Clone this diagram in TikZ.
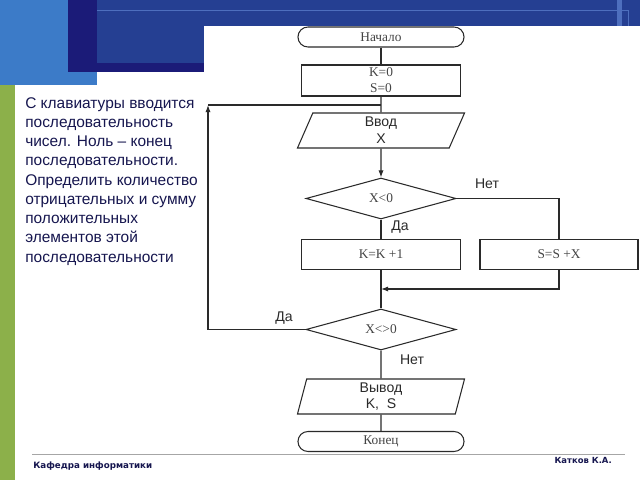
\documentclass[tikz,border=0pt]{standalone}
\usepackage{fontspec}
\setmainfont{Liberation Sans}
\newfontfamily\timesfont{Liberation Serif}
\newfontfamily\footfont{DejaVu Sans}
\usetikzlibrary{shapes.geometric,arrows.meta}

\definecolor{slideblue}{HTML}{3C7BC8}
\definecolor{slidenavy}{HTML}{1B1B78}
\definecolor{bandblue}{HTML}{253F92}
\definecolor{bandline}{HTML}{4E6FBE}
\definecolor{slidegreen}{HTML}{8CB04A}
\definecolor{textnavy}{HTML}{16164F}
\definecolor{linegray}{HTML}{2A2A2A}
\definecolor{txtgray}{HTML}{444444}

\begin{document}
\begin{tikzpicture}
  [
    x=0.025cm,
    y=-0.025cm,
    conn/.style={
      draw=linegray,
      line width=.75pt
    },
    arr/.style={
      conn,
      -{Latex[length=1.8mm,width=1.3mm]}
    },
    block/.style={
      conn,
      rectangle,
      inner sep=0,
      minimum width=3.975cm,
      minimum height=.75cm,
      align=center,
      text=txtgray,
      font=\timesfont\fontsize{9.5}{11.4}\selectfont
    },
    term/.style={
      block,
      rounded corners=.25cm,
      minimum width=4.15cm,
      minimum height=.5cm
    },
    io/.style={
      conn,
      trapezium,
      trapezium left angle=60,
      trapezium right angle=120,
      trapezium stretches body,
      inner sep=0,
      minimum width=4.175cm,
      minimum height=.875cm,
      align=center,
      text=linegray,
      font=\fontsize{10}{12}\selectfont
    },
    decision/.style={
      conn,
      diamond,
      inner sep=0,
      minimum width=3.75cm,
      minimum height=1.025cm,
      text=txtgray,
      font=\timesfont\fontsize{9.5}{11.4}\selectfont
    },
    lbl/.style={
      text=linegray,
      inner sep=0,
      font=\fontsize{10}{12}\selectfont
    }
  ]

  \useasboundingbox (0,0) rectangle (640,480);
  \fill [white] (0,0) rectangle (640,480);

  % slide background
  \fill [slideblue] (0,0) rectangle (97,85);
  \fill [slidegreen] (0,85) rectangle (15,480);
  \fill [slidenavy] (68,0) rectangle (204,72);
  \fill [bandblue] (97,0) rectangle (640,26);
  \fill [bandblue] (97,10) rectangle (204,63);
  \draw [bandline, line width=.6pt] (97,10) -- (628,10) -- (628,26);
  \fill [bandline] (617,0) rectangle (622,26);
  \draw [gray!70, line width=.5pt] (32,454) -- (625,454);

  % task
  \node [anchor=north west, inner sep=0, align=left, text=textnavy,
         font=\fontsize{11}{13.7}\selectfont] (task) at (25,97)
    {С клавиатуры вводится\\
     последовательность\\
     чисел. Ноль – конец\\
     последовательности.\\
     Определить количество\\
     отрицательных и сумму\\
     положительных\\
     элементов этой\\
     последовательности};

  % footer
  \node [anchor=west, inner sep=0, text=textnavy,
         font=\footfont\bfseries\fontsize{6.2}{7}\selectfont] (dept) at (33,466)
    {Кафедра информатики};
  \node [anchor=east, inner sep=0, text=textnavy,
         font=\footfont\bfseries\fontsize{6}{7}\selectfont] (author) at (612,460)
    {Катков К.А.};

  % blocks
  \node [term] (start) at (381,37) {Начало};
  \node [block, minimum height=.775cm] (init) at (381,80.5) {K=0\\S=0};
  \node [io] (input) at (381,130.5) {Ввод\\X};
  \node [decision] (cond1) at (381,198.5) {X<0};
  \node [block] (inc) at (381,254.5) {K=K +1};
  \node [block, minimum width=3.95cm] (add) at (559,254.5) {S=S +X};
  \node [decision] (cond2) at (381,329.5) {X<>0};
  \node [io, trapezium left angle=72, trapezium right angle=108] (output) at (381,396.5) {Вывод\\K,\ \ S};
  \node [term] (stop) at (381,441.5) {Конец};

  % labels
  \node [lbl] (yes1) at (400,227) {Да};
  \node [lbl] (no1) at (487,184) {Нет};
  \node [lbl] (yes2) at (284,318) {Да};
  \node [lbl] (no2) at (412,360) {Нет};

  \coordinate (join) at (381,105);
  \coordinate (loop) at (208,105);
  \coordinate (merge) at (381,289);

  % edges
  \draw [conn] (start) -- (init);
  \draw [conn] (init) -- (input);
  \draw [arr] (input) -- (cond1);
  \draw [conn] (cond1) -- (inc);
  \draw [conn] (cond1) -| (add);
  \draw [arr] (add) |- (merge);
  \draw [conn] (inc) -- (cond2);
  \draw [arr] (cond2) -| (loop);
  \draw [conn] (loop) -- (join);
  \draw [conn] (cond2) -- (output);
  \draw [conn] (output) -- (stop);
\end{tikzpicture}
\end{document}
